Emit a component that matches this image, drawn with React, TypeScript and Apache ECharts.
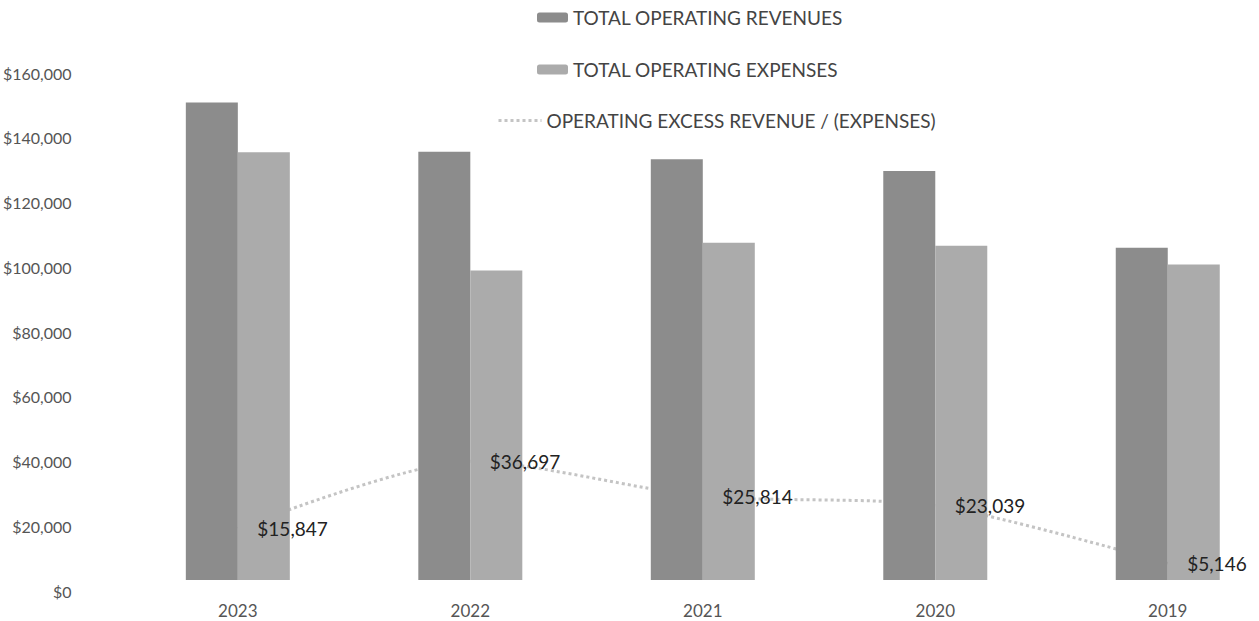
import React, { useEffect, useRef } from "react";
import * as echarts from "echarts";

const years = ["2023", "2022", "2021", "2020", "2019"];
const revenues = [147500, 132300, 130000, 126300, 102600];
const expenses = [132153, 95603, 104186, 103261, 97454];
const excess = [15847, 36697, 25814, 23039, 5146];
const yMin = 0;
const yMax = 160000;
const yInterval = 20000;

const seriesNames = [
  "TOTAL OPERATING REVENUES",
  "TOTAL OPERATING EXPENSES",
  "OPERATING EXCESS REVENUE / (EXPENSES)",
];

const fmt = (v: number) => "$" + String(Math.round(v)).replace(/\B(?=(\d{3})+(?!\d))/g, ",");

const FONT = "Lato";

export default function App() {
  const ref = useRef<HTMLDivElement>(null);
  useEffect(() => {
    if (!ref.current) return;
    const chart = echarts.init(ref.current, undefined, { renderer: "svg" });
    const legendText = { fontFamily: FONT, fontSize: 19, color: "#444" };
    chart.setOption({
      animation: false,
      backgroundColor: "#ffffff",
      grid: { left: 118, right: 11, top: 62, bottom: 41, containLabel: false },
      legend: [
        {
          data: [seriesNames[0]], left: 532, top: 3, itemWidth: 31, itemHeight: 10,
          selectedMode: false, textStyle: legendText,
        },
        {
          data: [seriesNames[1]], left: 532, top: 55, itemWidth: 31, itemHeight: 10,
          selectedMode: false, textStyle: legendText,
        },
        {
          data: [seriesNames[2]], left: 492, top: 106, itemWidth: 43, itemHeight: 10,
          selectedMode: false, textStyle: legendText,
          itemStyle: { opacity: 0 },
          lineStyle: { color: "#c4c4c4", width: 3, type: "dotted" },
        },
      ],
      xAxis: {
        type: "category",
        data: years,
        axisLine: { show: false },
        axisTick: { show: false },
        axisLabel: { fontFamily: FONT, fontSize: 17, color: "#555", margin: 22 },
      },
      yAxis: {
        type: "value",
        min: yMin,
        max: yMax,
        interval: yInterval,
        splitLine: { show: false },
        axisLine: { show: false },
        axisTick: { show: false },
        axisLabel: {
          fontFamily: FONT, fontSize: 16, color: "#555", margin: 50,
          formatter: (v: number) => fmt(v),
          verticalAlign: "top", padding: [3, 0, 0, 0],
        },
      },
      series: [
        {
          name: seriesNames[2], type: "line", data: excess,
          symbol: "none", smooth: 0.25, z: 1,
          lineStyle: { color: "#c4c4c4", width: 3, type: "dotted" },
          itemStyle: { color: "#c4c4c4" },
        },
        {
          name: seriesNames[0], type: "bar", data: revenues, barWidth: 52, barGap: "0%",
          itemStyle: { color: "#8c8c8c" }, z: 2,
        },
        {
          name: seriesNames[1], type: "bar", data: expenses, barWidth: 52, barGap: "0%",
          itemStyle: { color: "#ababab" }, z: 2,
        },
        {
          name: "excess-labels", type: "line", data: excess,
          symbol: "circle", symbolSize: 1, showSymbol: true,
          lineStyle: { width: 0, opacity: 0 },
          itemStyle: { color: "rgba(0,0,0,0)", borderWidth: 0 },
          label: {
            show: true, position: "right", distance: 19, opacity: 1,
            fontFamily: FONT, fontSize: 19, color: "#222",
            formatter: (p: any) => fmt(p.value),
          },
          labelLayout: { hideOverlap: false },
          z: 5,
        },
      ],
    });
    return () => chart.dispose();
  }, []);
  return (
    <div style={{ position: "fixed", left: 0, top: 0, width: 1259, height: 621, overflow: "hidden", background: "#fff" }}>
      <div ref={ref} style={{ width: 1295, height: 621 }} />
    </div>
  );
}
